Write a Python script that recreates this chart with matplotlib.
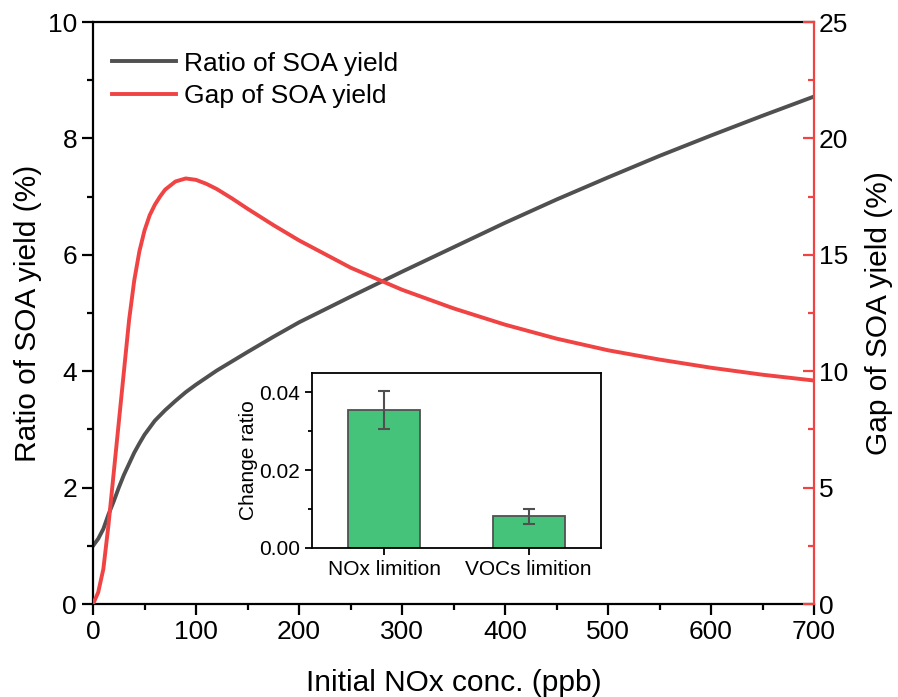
import numpy as np
import matplotlib
matplotlib.use("Agg")
import matplotlib.pyplot as plt
from matplotlib.ticker import MultipleLocator

plt.rcParams['font.family'] = ['Liberation Sans', 'DejaVu Sans']

# datos
nox = [0, 5, 10, 15, 20, 25, 30, 35, 40, 45, 50, 55, 60, 65, 70, 80, 90,
       100, 110, 120, 135, 150, 175, 200, 250, 300, 350, 400, 450, 500,
       550, 600, 650, 700]
ratio = [1.0, 1.12, 1.29, 1.54, 1.76, 2.0, 2.22, 2.41, 2.6, 2.76, 2.91,
         3.03, 3.15, 3.24, 3.33, 3.49, 3.64, 3.77, 3.89, 4.01, 4.17, 4.33,
         4.59, 4.84, 5.28, 5.71, 6.13, 6.55, 6.95, 7.33, 7.70, 8.05, 8.39,
         8.72]
gap = [0.0, 0.5, 1.5, 3.4, 5.6, 7.8, 10.0, 12.2, 13.9, 15.15, 16.05, 16.7,
       17.15, 17.5, 17.8, 18.15, 18.28, 18.22, 18.05, 17.83, 17.42, 16.98,
       16.28, 15.62, 14.45, 13.5, 12.7, 12.0, 11.4, 10.9, 10.5, 10.15, 9.85,
       9.6]

cats = ['NOx limition', 'VOCs limition']
change = [0.0355, 0.0081]
change_err = [0.0050, 0.0020]

GRAY = '#505050'
RED = '#F04343'
GREEN = '#46C37B'

fig = plt.figure(figsize=(8.98, 6.97), dpi=100)
ax = fig.add_axes([0.1036, 0.1334, 0.8029, 0.835])
ax2 = ax.twinx()

l1, = ax.plot(nox, ratio, color=GRAY, lw=2.8, label='Ratio of SOA yield')
l2, = ax2.plot(nox, gap, color=RED, lw=2.8, label='Gap of SOA yield')

ax.set_xlim(0, 700)
ax.set_ylim(0, 10)
ax2.set_ylim(0, 25)
ax.xaxis.set_major_locator(MultipleLocator(100))
ax.xaxis.set_minor_locator(MultipleLocator(50))
ax.yaxis.set_major_locator(MultipleLocator(2))
ax.yaxis.set_minor_locator(MultipleLocator(1))
ax2.yaxis.set_major_locator(MultipleLocator(5))
ax2.yaxis.set_minor_locator(MultipleLocator(2.5))

for s in ['left', 'bottom', 'top']:
    ax.spines[s].set_linewidth(1.6)
ax.spines['right'].set_visible(False)
for s in ['left', 'bottom', 'top']:
    ax2.spines[s].set_visible(False)
ax2.spines['right'].set_color(RED)
ax2.spines['right'].set_linewidth(1.6)

ax.tick_params(axis='both', which='major', direction='out', length=8,
               width=1.6, labelsize=19, top=False, right=False)
ax.tick_params(axis='both', which='minor', direction='out', length=4,
               width=1.6, top=False, right=False)
ax2.tick_params(axis='y', which='major', direction='in', length=8,
                width=1.6, color=RED, labelsize=19)
ax2.tick_params(axis='y', which='minor', direction='in', length=4,
                width=1.6, color=RED)

ax.set_xlabel('Initial NOx conc. (ppb)', fontsize=21.5, labelpad=18)
ax.set_ylabel('Ratio of SOA yield (%)', fontsize=21.5, labelpad=4)
ax2.set_ylabel('Gap of SOA yield (%)', fontsize=21.5, labelpad=12)

ax.legend(handles=[l1, l2], loc='upper left', frameon=False, fontsize=19,
          handlelength=2.4, handletextpad=0.3, labelspacing=0.33,
          bbox_to_anchor=(-0.006, 0.99))

# gráfico insertado
axi = fig.add_axes([0.3474, 0.2138, 0.3218, 0.251])
pos = np.arange(1, len(cats) + 1)
axi.bar(pos, change, width=0.5, color=GREEN, edgecolor=GRAY, linewidth=1.3,
        yerr=change_err, ecolor=GRAY,
        error_kw=dict(elinewidth=1.5, capsize=4, capthick=1.5))
axi.set_xlim(0.5, 2.5)
axi.set_ylim(0, 0.045)
axi.set_xticks(pos)
axi.set_xticklabels(cats)
axi.yaxis.set_major_locator(MultipleLocator(0.02))
axi.yaxis.set_minor_locator(MultipleLocator(0.01))
axi.yaxis.set_major_formatter(plt.FormatStrFormatter('%.2f'))
for s in axi.spines.values():
    s.set_linewidth(1.3)
axi.tick_params(axis='both', which='major', direction='out', length=5,
                width=1.3, labelsize=15)
axi.tick_params(axis='y', which='minor', direction='out', length=3, width=1.3)
axi.set_ylabel('Change ratio', fontsize=15, labelpad=1)

fig.savefig('out.png', dpi=100)
